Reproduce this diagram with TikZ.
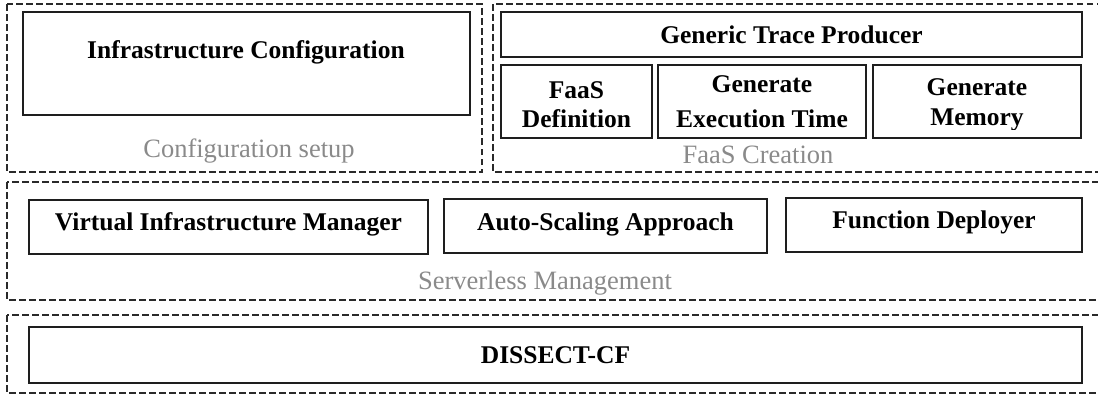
\documentclass[tikz,border=0pt]{standalone}
\usepackage{fontspec}
\setmainfont{Liberation Serif}
\definecolor{boxline}{HTML}{1E1E1E}
\definecolor{grouptext}{HTML}{8A8A8A}
\definecolor{dashline}{HTML}{2A2A2A}
\tikzset{
  groupbox/.style={draw=dashline, line width=1.2bp, dash pattern=on 6.5bp off 3.5bp},
  compbox/.style={draw=boxline, line width=1.7bp},
  comptext/.style={font=\fontsize{25.5bp}{30bp}\selectfont\bfseries, text=black, inner sep=0pt, anchor=base},
  grouplabel/.style={font=\fontsize{26.5bp}{30bp}\selectfont, text=grouptext, inner sep=0pt, anchor=base}
}
\begin{document}
\begin{tikzpicture}[x=1bp,y=-1bp]
\path[use as bounding box] (0,0) rectangle (1098,397);
\clip (0,0) rectangle (1098,397);
% group boxes
\draw[groupbox] (7,4) rectangle (482,172);
\draw[groupbox] (493,4) rectangle (1110,172);
\draw[groupbox] (7,182) rectangle (1110,300);
\draw[groupbox] (7,315) rectangle (1110,393);
% component boxes
\draw[compbox] (23,12) rectangle (470,115);
\draw[compbox] (501,12) rectangle (1082,57);
\draw[compbox] (501,65) rectangle (652,138);
\draw[compbox] (658,65) rectangle (866,138);
\draw[compbox] (873,65) rectangle (1081,138);
\draw[compbox] (29,200) rectangle (428,254);
\draw[compbox] (444,199) rectangle (767,253);
\draw[compbox] (786,198) rectangle (1082,252);
\draw[compbox] (29,327) rectangle (1082,383);
% texts
\node[comptext] (infra) at (246,58) {Infrastructure Configuration};
\node[comptext] (gtp) at (791.5,43) {Generic Trace Producer};
\node[comptext] (faas1) at (576.5,98) {FaaS};
\node[comptext] (faas2) at (576.5,127.5) {Definition};
\node[comptext] (exec1) at (762,92.7) {Generate};
\node[comptext] (exec2) at (762,127) {Execution Time};
\begin{scope}
\clip (873,65) rectangle (1081,129.5);
\node[comptext] (mem1) at (977,95) {Generate};
\node[comptext] (mem2) at (977,125) {Memory};
\end{scope}
\node[comptext] (vim) at (228.5,230) {Virtual Infrastructure Manager};
\node[comptext] (auto) at (605.5,230) {Auto-Scaling Approach};
\node[comptext] (fdep) at (934,228) {Function Deployer};
\node[comptext] (dissect) at (555.5,363.5) {DISSECT-CF};
% group labels
\node[grouplabel] (cfg) at (249,157) {Configuration setup};
\node[grouplabel] (faasc) at (758,163) {FaaS Creation};
\node[grouplabel] (slm) at (545,289) {Serverless Management};
\end{tikzpicture}
\end{document}
